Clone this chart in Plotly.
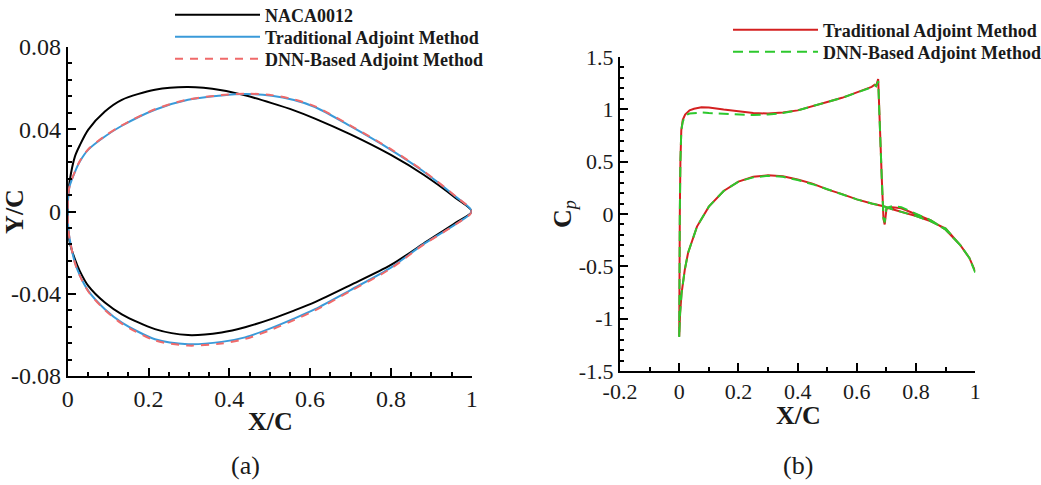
import numpy as np
import plotly.graph_objects as go

# ---------------- data: (a) airfoil geometry ----------------
X_STATIONS = [0.0, 0.0015, 0.005, 0.018, 0.03, 0.051, 0.092, 0.134, 0.216, 0.298, 0.381, 0.439,
              0.505, 0.56, 0.612, 0.70, 0.80, 0.88, 0.96, 1.0]
NACA_UPPER = [0.0, 0.0085, 0.0150, 0.0268, 0.0322, 0.0398, 0.0486, 0.0543, 0.0592, 0.0605, 0.0590, 0.0565,
              0.0527, 0.0492, 0.0452, 0.0375, 0.0275, 0.0180, 0.0066, 0.0]
NACA_LOWER = [0.0, -0.0095, -0.0150, -0.0233, -0.0290, -0.0362, -0.0443, -0.0500, -0.0572, -0.0601, -0.0588, -0.0563,
              -0.0522, -0.0482, -0.0441, -0.0358, -0.0260, -0.0157, -0.0055, 0.0]
TRAD_UPPER = [0.0, 0.0085, 0.0125, 0.0193, 0.0243, 0.0301, 0.0365, 0.0417, 0.0495, 0.0543, 0.0564, 0.0571,
              0.0563, 0.0542, 0.0508, 0.0415, 0.0300, 0.0196, 0.0073, 0.0]
TRAD_LOWER = [0.0, -0.0085, -0.0135, -0.0249, -0.0310, -0.0386, -0.0475, -0.0540, -0.0621, -0.0645, -0.0634, -0.0612,
              -0.0566, -0.0521, -0.0475, -0.0382, -0.0273, -0.0160, -0.0062, 0.0]
DNN_UPPER = [0.0, 0.0086, 0.0126, 0.0195, 0.0245, 0.0303, 0.0367, 0.0419, 0.0497, 0.0545, 0.0566, 0.0573,
             0.0566, 0.0545, 0.0511, 0.0418, 0.0303, 0.0198, 0.0074, 0.0]
DNN_LOWER = [0.0, -0.0086, -0.0136, -0.0251, -0.0312, -0.0389, -0.0479, -0.0545, -0.0627, -0.0652, -0.0642, -0.0620,
             -0.0574, -0.0528, -0.0481, -0.0387, -0.0277, -0.0162, -0.0063, 0.0]

# ---------------- data: (b) pressure coefficient ----------------
CP_TRAD_UP_X = [0.0, 0.001, 0.002, 0.004, 0.007, 0.012, 0.02, 0.035, 0.05, 0.075, 0.1, 0.15, 0.2, 0.25,
                0.3, 0.35, 0.4, 0.45, 0.5, 0.55, 0.6, 0.65, 0.66, 0.665, 0.672, 0.678, 0.684, 0.69,
                0.694, 0.70, 0.72, 0.75, 0.8, 0.85, 0.9, 0.95, 0.98, 1.0]
CP_TRAD_UP = [-1.17, -0.6, 0.0, 0.5, 0.8, 0.9, 0.95, 0.99, 1.005, 1.02, 1.018, 0.998, 0.98, 0.965,
              0.96, 0.97, 0.99, 1.03, 1.07, 1.11, 1.16, 1.215, 1.235, 1.225, 1.29, 0.85, 0.35, -0.05,
              -0.1, 0.05, 0.065, 0.055, 0.0, -0.06, -0.15, -0.3, -0.42, -0.55]
CP_TRAD_LO_X = [0.0, 0.003, 0.008, 0.019, 0.03, 0.06, 0.1, 0.15, 0.2, 0.25, 0.3, 0.35, 0.4, 0.45,
                0.5, 0.55, 0.6, 0.65, 0.69, 0.72, 0.75, 0.8, 0.85, 0.9, 0.95, 0.98, 1.0]
CP_TRAD_LO = [-1.17, -0.95, -0.755, -0.53, -0.37, -0.12, 0.07, 0.22, 0.31, 0.355, 0.37, 0.36, 0.33, 0.29,
              0.235, 0.19, 0.14, 0.1, 0.075, 0.045, 0.02, -0.02, -0.07, -0.14, -0.3, -0.42, -0.55]
CP_DNN_UP_X = CP_TRAD_UP_X
CP_DNN_UP = [-1.18, -0.6, 0.0, 0.5, 0.8, 0.88, 0.94, 0.96, 0.965, 0.97, 0.965, 0.955, 0.95, 0.945,
             0.95, 0.965, 0.99, 1.03, 1.07, 1.11, 1.16, 1.21, 1.23, 1.22, 1.27, 0.85, 0.35, -0.04,
             -0.08, 0.06, 0.075, 0.065, 0.005, -0.06, -0.15, -0.3, -0.42, -0.56]
CP_DNN_LO_X = CP_TRAD_LO_X
CP_DNN_LO = [-1.18, -0.95, -0.755, -0.53, -0.37, -0.12, 0.07, 0.22, 0.31, 0.35, 0.365, 0.355, 0.325, 0.285,
             0.235, 0.19, 0.14, 0.1, 0.075, 0.045, 0.02, -0.02, -0.07, -0.14, -0.3, -0.42, -0.56]

# tick labels
A_XTICKS = [0, 0.2, 0.4, 0.6, 0.8, 1]
A_XTEXT = ["0", "0.2", "0.4", "0.6", "0.8", "1"]
A_YTICKS = [-0.08, -0.04, 0, 0.04, 0.08]
A_YTEXT = ["-0.08", "-0.04", "0", "0.04", "0.08"]
B_XTICKS = [-0.2, 0, 0.2, 0.4, 0.6, 0.8, 1]
B_XTEXT = ["-0.2", "0", "0.2", "0.4", "0.6", "0.8", "1"]
B_YTICKS = [-1.5, -1, -0.5, 0, 0.5, 1, 1.5]
B_YTEXT = ["-1.5", "-1", "-0.5", "0", "0.5", "1", "1.5"]

SERIF = "Liberation Serif, Times New Roman, serif"
INK = "#1a1a1a"
W, H = 1041, 485


def px_x(p):
    return p / W


def px_y(p):
    return 1 - p / H


def loop(xs, up, lo):
    x = list(reversed(xs)) + list(xs[1:])
    y = list(reversed(up)) + list(lo[1:])
    return x, y


fig = go.Figure()

x, y = loop(X_STATIONS, NACA_UPPER, NACA_LOWER)
fig.add_trace(go.Scatter(x=x, y=y, mode="lines", name="NACA0012",
                         line=dict(color="#000000", width=2, shape="spline", smoothing=0.8),
                         xaxis="x", yaxis="y", legend="legend"))
x, y = loop(X_STATIONS, TRAD_UPPER, TRAD_LOWER)
fig.add_trace(go.Scatter(x=x, y=y, mode="lines", name="Traditional Adjoint Method",
                         line=dict(color="#3A9AD9", width=2, shape="spline", smoothing=0.8),
                         xaxis="x", yaxis="y", legend="legend2"))
x, y = loop(X_STATIONS, DNN_UPPER, DNN_LOWER)
fig.add_trace(go.Scatter(x=x, y=y, mode="lines", name="DNN-Based Adjoint Method",
                         line=dict(color="#F06A6A", width=2, dash="8px,7px", shape="spline", smoothing=0.8),
                         xaxis="x", yaxis="y", legend="legend3"))

x, y = loop(CP_TRAD_UP_X, CP_TRAD_UP, CP_TRAD_LO)
x = list(reversed(CP_TRAD_UP_X)) + CP_TRAD_LO_X[1:]
fig.add_trace(go.Scatter(x=x, y=y, mode="lines", name="Traditional Adjoint Method",
                         line=dict(color="#D42020", width=2),
                         xaxis="x2", yaxis="y2", legend="legend4"))
y = list(reversed(CP_DNN_UP)) + CP_DNN_LO[1:]
x = list(reversed(CP_DNN_UP_X)) + CP_DNN_LO_X[1:]
fig.add_trace(go.Scatter(x=x, y=y, mode="lines", name="DNN-Based Adjoint Method",
                         line=dict(color="#2DC82D", width=2, dash="10px,6px"),
                         xaxis="x2", yaxis="y2", legend="legend5"))


def axis_common(fs):
    return dict(showline=True, linecolor="black", linewidth=2, mirror=False,
                ticks="inside", ticklen=8, tickwidth=1.5, tickcolor="black",
                showgrid=False, zeroline=False, tickmode="array", automargin=False,
                tickfont=dict(family=SERIF, size=fs, color=INK))


def minor(vals):
    return dict(tickvals=vals, ticks="inside", ticklen=4, tickwidth=1.5,
                tickcolor="black", showgrid=False)


def leg(xp, yp):
    return dict(x=px_x(xp), y=px_y(yp), xanchor="left", yanchor="middle",
                bgcolor="rgba(0,0,0,0)", itemwidth=85,
                font=dict(family=SERIF, size=18, color=INK, weight="bold"))


def label(text, xp, yp):
    return dict(text=text, x=px_x(xp), y=px_y(yp), xref="paper", yref="paper", showarrow=False,
                xanchor="center", yanchor="middle", font=dict(family=SERIF, size=26, color=INK))


fig.update_layout(
    width=W, height=H,
    margin=dict(l=0, r=0, t=0, b=0, autoexpand=False),
    paper_bgcolor="white", plot_bgcolor="white",
    showlegend=True,
    xaxis=dict(domain=[px_x(67.7), px_x(471.7)], range=[0, 1], anchor="y",
               tickvals=A_XTICKS, ticktext=A_XTEXT,
               minor=minor(list(np.round(np.arange(0, 1.0001, 0.05), 3))),
               **axis_common(24)),
    yaxis=dict(domain=[px_y(376), px_y(47)], range=[-0.08, 0.08], anchor="x",
               tickvals=A_YTICKS, ticktext=A_YTEXT,
               minor=minor(list(np.round(np.arange(-0.08, 0.08001, 0.008), 4))),
               title=dict(text="<b>Y/C</b>", font=dict(family=SERIF, size=26, color=INK), standoff=0),
               **axis_common(24)),
    xaxis2=dict(domain=[px_x(620), px_x(975.3)], range=[-0.2, 1], anchor="y2",
                tickvals=B_XTICKS, ticktext=B_XTEXT,
                minor=minor(list(np.round(np.arange(-0.2, 1.0001, 0.1), 3))),
                **axis_common(22)),
    yaxis2=dict(domain=[px_y(371), px_y(57)], range=[-1.5, 1.5], anchor="x2",
                tickvals=B_YTICKS, ticktext=B_YTEXT,
                minor=minor(list(np.round(np.arange(-1.5, 1.5001, 0.1), 3))),
                title=dict(text="<b>C</b><sub><i>p</i></sub>", font=dict(family=SERIF, size=26, color=INK), standoff=0),
                **axis_common(22)),
    legend=leg(170, 15),
    legend2=leg(170, 37),
    legend3=leg(170, 59),
    legend4=leg(728, 30),
    legend5=leg(728, 52),
    annotations=[
        label("<b>X/C</b>", 270, 421),
        label("<b>X/C</b>", 798, 415),
        label("(a)", 245, 465),
        label("(b)", 798, 465),
    ],
)

fig.write_html("out.html", config={"displayModeBar": False},
               post_script="document.body.style.margin='0px';")
